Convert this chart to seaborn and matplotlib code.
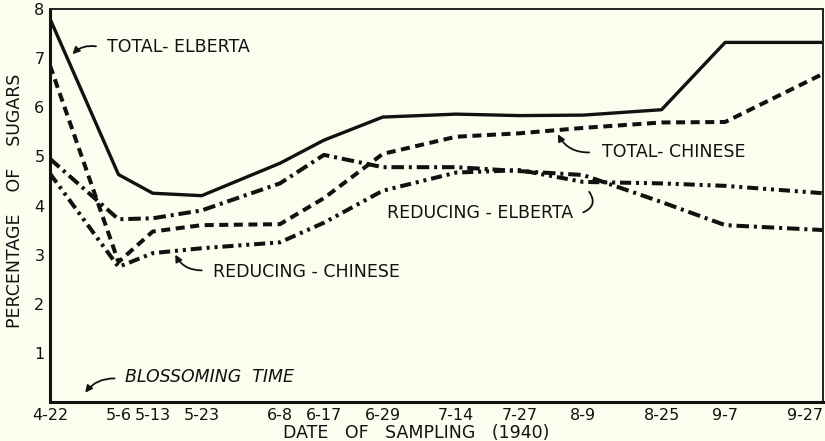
import matplotlib
matplotlib.use("Agg")
import matplotlib.pyplot as plt
import seaborn as sns
import pandas as pd
import numpy as np

# ---- data ----
dates = ["4-22", "5-6", "5-13", "5-23", "6-8", "6-17", "6-29",
         "7-14", "7-27", "8-9", "8-25", "9-7", "9-27"]
total_elberta = [7.8, 4.63, 4.25, 4.2, 4.86, 5.33, 5.8, 5.86, 5.83, 5.84, 5.95, 7.32, 7.32]
total_chinese = [6.85, 2.85, 3.47, 3.6, 3.62, 4.15, 5.05, 5.4, 5.47, 5.58, 5.69, 5.7, 6.68]
reducing_elberta = [4.95, 3.72, 3.74, 3.9, 4.45, 5.03, 4.78, 4.78, 4.7, 4.62, 4.07, 3.6, 3.5]
reducing_chinese = [4.65, 2.75, 3.03, 3.13, 3.25, 3.65, 4.3, 4.67, 4.72, 4.48, 4.45, 4.4, 4.25]
y_ticks = [1, 2, 3, 4, 5, 6, 7, 8]

# day offsets from first sampling date (axis is proportional to time)
dt = pd.to_datetime(["1940-" + d for d in dates], format="%Y-%m-%d")
days = (dt - dt[0]).days.values

df = pd.DataFrame({
    "day": np.tile(days, 4),
    "value": total_elberta + total_chinese + reducing_elberta + reducing_chinese,
    "series": ["TE"] * 13 + ["TC"] * 13 + ["RE"] * 13 + ["RC"] * 13,
})

sns.set_style("white")
bg = "#FDFDEF"
ink = "#111111"
plt.rcParams["font.family"] = ["DejaVu Sans"]
plt.rcParams["lines.scale_dashes"] = False

fig = plt.figure(figsize=(8.25, 4.41), dpi=100, facecolor=bg)
ax = fig.add_axes([50 / 825, 1 - 402 / 441, 773 / 825, 393 / 441])
ax.set_facecolor(bg)

styles = {
    "TE": (None, 2.4),
    "TC": ((6.5, 4), 2.9),
    "RE": ((9, 3.5, 2.2, 3.5), 2.9),
    "RC": ((8, 3.5, 2.2, 3.5, 2.2, 3.5), 2.9),
}
for key in ["TE", "TC", "RE", "RC"]:
    sub = df[df.series == key]
    dash, lw = styles[key]
    sns.lineplot(data=sub, x="day", y="value", ax=ax, color=ink,
                 linewidth=lw, legend=False)
    line = ax.lines[-1]
    if dash is not None:
        line.set_dashes(dash)

ax.set_xlim(days[0], days[-1])
ax.set_ylim(0, 8)
ax.set_xticks(days)
ax.set_xticklabels(dates)
ax.set_yticks(y_ticks)
ax.set_yticklabels([str(v) for v in y_ticks])
ax.tick_params(direction="in", length=6, width=1.5, colors=ink,
               labelsize=11.5, pad=4)
ax.get_xticklabels()[-1].set_horizontalalignment("right")
ax.set_xlabel("")
ax.set_ylabel("")

for s in ["left", "bottom"]:
    ax.spines[s].set_linewidth(2.2)
    ax.spines[s].set_color(ink)
for s in ["top", "right"]:
    ax.spines[s].set_linewidth(1.4)
    ax.spines[s].set_color("#222222")

txt = dict(color=ink, fontsize=12.5)
arr = dict(arrowstyle="-|>", color=ink, lw=1.3, mutation_scale=10,
           shrinkA=0, shrinkB=0)

ax.text(11.7, 7.22, "TOTAL- ELBERTA", ha="left", va="center", **txt)
ax.annotate("", xy=(4.6, 7.08), xytext=(9.4, 7.24),
            arrowprops=dict(**arr, connectionstyle="arc3,rad=0.25"))

ax.text(112.9, 5.09, "TOTAL- CHINESE", ha="left", va="center", **txt)
ax.annotate("", xy=(103.8, 5.45), xytext=(110.2, 5.08),
            arrowprops=dict(**arr, connectionstyle="arc3,rad=-0.3"))

ax.text(68.9, 3.85, "REDUCING - ELBERTA", ha="left", va="center", **txt)
ax.annotate("", xy=(110.2, 4.28), xytext=(109.0, 3.86),
            arrowprops=dict(arrowstyle="-", color=ink, lw=1.3,
                            connectionstyle="arc3,rad=0.6", shrinkA=0, shrinkB=0))

ax.text(33.3, 2.64, "REDUCING - CHINESE", ha="left", va="center", **txt)
ax.annotate("", xy=(25.6, 3.0), xytext=(31.0, 2.68),
            arrowprops=dict(**arr, connectionstyle="arc3,rad=-0.3"))

ax.text(15.3, 0.51, "BLOSSOMING  TIME", ha="left", va="center",
        style="italic", **txt)
ax.annotate("", xy=(7.2, 0.19), xytext=(13.2, 0.48),
            arrowprops=dict(**arr, connectionstyle="arc3,rad=0.25"))

fig.text(15 / 825, 1 - 201 / 441, "PERCENTAGE    OF    SUGARS", rotation=90,
         ha="center", va="center", fontsize=12.5, color=ink)
fig.text(416 / 825, 1 - 433 / 441, "DATE   OF   SAMPLING   (1940)",
         ha="center", va="center", fontsize=12.5, color=ink)

fig.savefig("out.png", dpi=100, facecolor=bg)
